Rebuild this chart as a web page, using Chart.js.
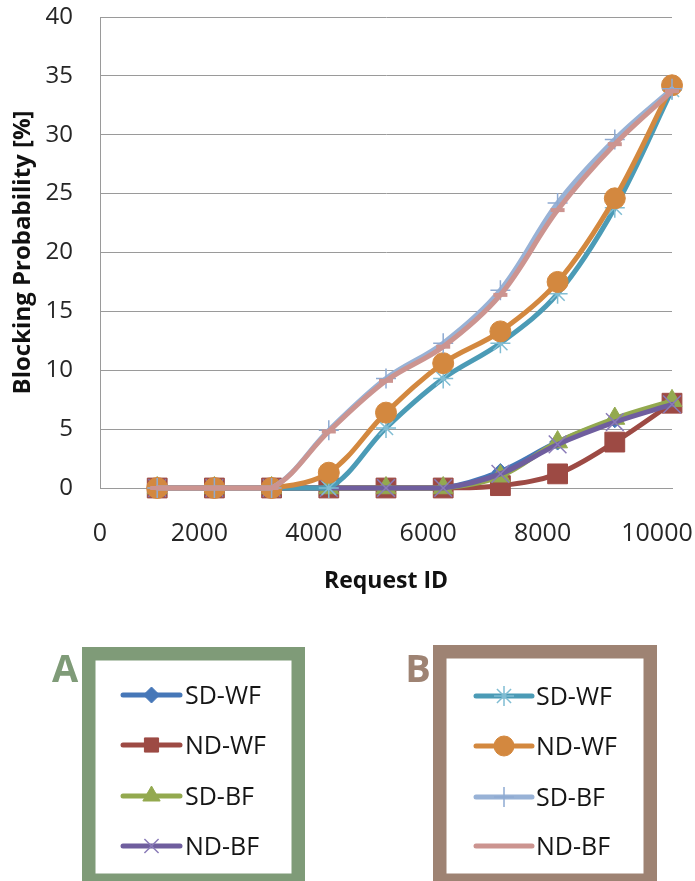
<!DOCTYPE html>
<html>
<head>
<meta charset="utf-8">
<title>Blocking probability vs request ID</title>
<script src="https://cdn.jsdelivr.net/npm/chart.js@4.4.1/dist/chart.umd.min.js"></script>
<style>
  html, body { margin: 0; padding: 0; background: #fff; }
  #wrap { position: relative; width: 695px; height: 881px; }
</style>
</head>
<body>
<div id="wrap"><canvas id="chart"></canvas></div>
<script>
const requestIds = [1000, 2000, 3000, 4000, 5000, 6000, 7000, 8000, 9000, 10000];
const xTicks = [0, 2000, 4000, 6000, 8000, 10000];
const yTicks = [0, 5, 10, 15, 20, 25, 30, 35, 40];

// group A
const aSdWf = [0, 0, 0, 0, 0, 0, 1.4, 3.9, 5.8, 7.3];
const aNdWf = [0, 0, 0, 0, 0, 0, 0.2, 1.2, 3.9, 7.2];
const aSdBf = [0, 0, 0, 0, 0, 0, 1.0, 3.9, 5.9, 7.4];
const aNdBf = [0, 0, 0, 0, 0, 0, 1.2, 3.7, 5.6, 7.1];

// group B
const bSdWf = [0, 0, 0, 0, 5.1, 9.3, 12.3, 16.5, 23.8, 33.8];
const bNdWf = [0, 0, 0, 1.3, 6.4, 10.6, 13.3, 17.5, 24.6, 34.2];
const bSdBf = [0, 0, 0, 4.9, 9.3, 12.3, 16.8, 24.2, 29.6, 33.9];
const bNdBf = [0, 0, 0, 4.8, 9.1, 12.0, 16.4, 23.6, 29.2, 33.7];

const FONT = "'Open Sans', 'DejaVu Sans', sans-serif";
Chart.defaults.font.family = FONT;

function series(label, values, color, style, radius, markerColor, markerWidth) {
  return {
    label: label,
    data: requestIds.map((x, i) => ({ x: x, y: values[i] })),
    borderColor: color,
    backgroundColor: markerColor || color,
    pointBackgroundColor: markerColor || color,
    pointBorderColor: markerColor || color,
    pointBorderWidth: markerWidth || 1,
    pointStyle: style,
    pointRadius: radius,
    borderWidth: 5,
    borderCapStyle: 'round',
    borderJoinStyle: 'round',
    tension: 0.35,
    clip: false,
  };
}

const datasets = [
  series('SD-WF', aSdWf, '#4677b8', 'rectRot', 8),
  series('ND-WF', aNdWf, '#9d4a44', 'rect', 14),
  series('SD-BF', aSdBf, '#93a94f', 'triangle', 11.5),
  series('ND-BF', aNdBf, '#6f5e9e', 'crossRot', 12.5, '#8a7bb8', 1.5),
  series('SD-WF', bSdWf, '#4b9bb6', 'star', 10, '#80bdd3', 1.5),
  series('ND-WF', bNdWf, '#d3883f', 'circle', 10.5),
  series('SD-BF', bSdBf, '#98b2d6', 'cross', 10, '#8eaad2', 1.5),
  series('ND-BF', bNdBf, '#cc9490', 'line', 7, '#cc9490', 4),
];
// later series sit on top
datasets.forEach((d, i) => { d.order = datasets.length - 1 - i; });

// the two framed legend blocks under the plot
const legendGroups = [
  { letter: 'A', color: '#7f9b78', box: [82, 647, 223, 240], letterX: 65,
    lineFrom: 123, lineTo: 180, textX: 185, rows: [695, 745, 796, 846], members: [0, 1, 2, 3] },
  { letter: 'B', color: '#9e8373', box: [433, 645, 224, 242], letterX: 418,
    lineFrom: 476, lineTo: 532, textX: 536, rows: [696, 746, 797, 846], members: [4, 5, 6, 7] },
];

const groupLegends = {
  id: 'groupLegends',
  afterDraw(chart) {
    const ctx = chart.ctx;
    const bw = 13.5;
    ctx.save();
    legendGroups.forEach((g) => {
      const [x, y, w, h] = g.box;
      ctx.strokeStyle = g.color;
      ctx.lineWidth = bw;
      ctx.strokeRect(x + bw / 2, y + bw / 2, w - bw, h - bw);

      ctx.fillStyle = g.color;
      ctx.font = 'bold 38px ' + FONT;
      ctx.textAlign = 'center';
      ctx.textBaseline = 'alphabetic';
      ctx.fillText(g.letter, g.letterX, 682);

      g.members.forEach((di, r) => {
        const ds = chart.data.datasets[di];
        const cy = g.rows[r];
        ctx.strokeStyle = ds.borderColor;
        ctx.lineWidth = 5;
        ctx.lineCap = 'round';
        ctx.beginPath();
        ctx.moveTo(g.lineFrom, cy);
        ctx.lineTo(g.lineTo, cy);
        ctx.stroke();

        if (Chart.helpers && Chart.helpers.drawPoint) {
          ctx.fillStyle = ds.pointBackgroundColor;
          ctx.strokeStyle = ds.pointBorderColor;
          ctx.lineWidth = ds.pointBorderWidth;
          ctx.lineCap = 'butt';
          Chart.helpers.drawPoint(ctx, {
            pointStyle: ds.pointStyle,
            rotation: 0,
            radius: Math.min(ds.pointRadius, 10),
            borderWidth: ds.pointBorderWidth,
          }, (g.lineFrom + g.lineTo) / 2, cy);
        }

        ctx.fillStyle = '#151515';
        ctx.font = '25px ' + FONT;
        ctx.textAlign = 'left';
        ctx.textBaseline = 'middle';
        ctx.fillText(ds.label, g.textX, cy + 2);
      });
    });
    ctx.restore();
  }
};

// every x tick label except "0" sits a little left of its tick
const xLabelShift = -15;
const tickLabelShift = {
  id: 'tickLabelShift',
  afterLayout(chart) {
    const scale = chart.scales.x;
    if (!scale.getLabelItems) return;
    scale.getLabelItems().forEach((item, i) => {
      const t = scale.ticks[i];
      if (t && t.value !== 0 && item.options && item.options.translation) {
        item.options.translation[0] += xLabelShift;
      }
    });
  }
};

new Chart(document.getElementById('chart'), {
  type: 'line',
  data: { datasets: datasets },
  plugins: [tickLabelShift, groupLegends],
  options: {
    responsive: true,
    maintainAspectRatio: false,
    animation: false,
    events: [],
    layout: { padding: { left: 0, right: 23, top: 17, bottom: 286 } },
    plugins: {
      legend: { display: false },
      tooltip: { enabled: false },
    },
    scales: {
      x: {
        type: 'linear',
        min: 0,
        max: 10000,
        afterBuildTicks: (scale) => { scale.ticks = xTicks.map((v) => ({ value: v })); },
        afterFit: (scale) => { scale.paddingLeft = 0; scale.paddingRight = 0; scale.height = 107; },
        grid: { display: false, drawTicks: false },
        border: { display: true, color: '#9a9a9a', width: 1 },
        ticks: {
          padding: 31,
          maxRotation: 0,
          color: '#262626',
          font: { size: 25 },
          callback: (v) => String(v),
        },
        title: {
          display: true,
          text: 'Request ID',
          color: '#111',
          font: { size: 23, weight: 'bold' },
          padding: { top: 0, bottom: 0 },
        },
      },
      y: {
        min: 0,
        max: 40,
        afterBuildTicks: (scale) => { scale.ticks = yTicks.map((v) => ({ value: v })); },
        afterFit: (scale) => { scale.width = 100; scale.paddingTop = 0; scale.paddingBottom = 0; },
        grid: { color: '#9a9a9a', lineWidth: 1, drawTicks: false },
        border: { display: true, color: '#9a9a9a', width: 1 },
        ticks: {
          padding: 27,
          color: '#262626',
          font: { size: 24 },
        },
        title: {
          display: true,
          text: 'Blocking Probability [%]',
          color: '#111',
          font: { size: 24, weight: 'bold' },
          padding: { top: 9, bottom: 0 },
        },
      },
    },
  },
});
</script>
</body>
</html>
